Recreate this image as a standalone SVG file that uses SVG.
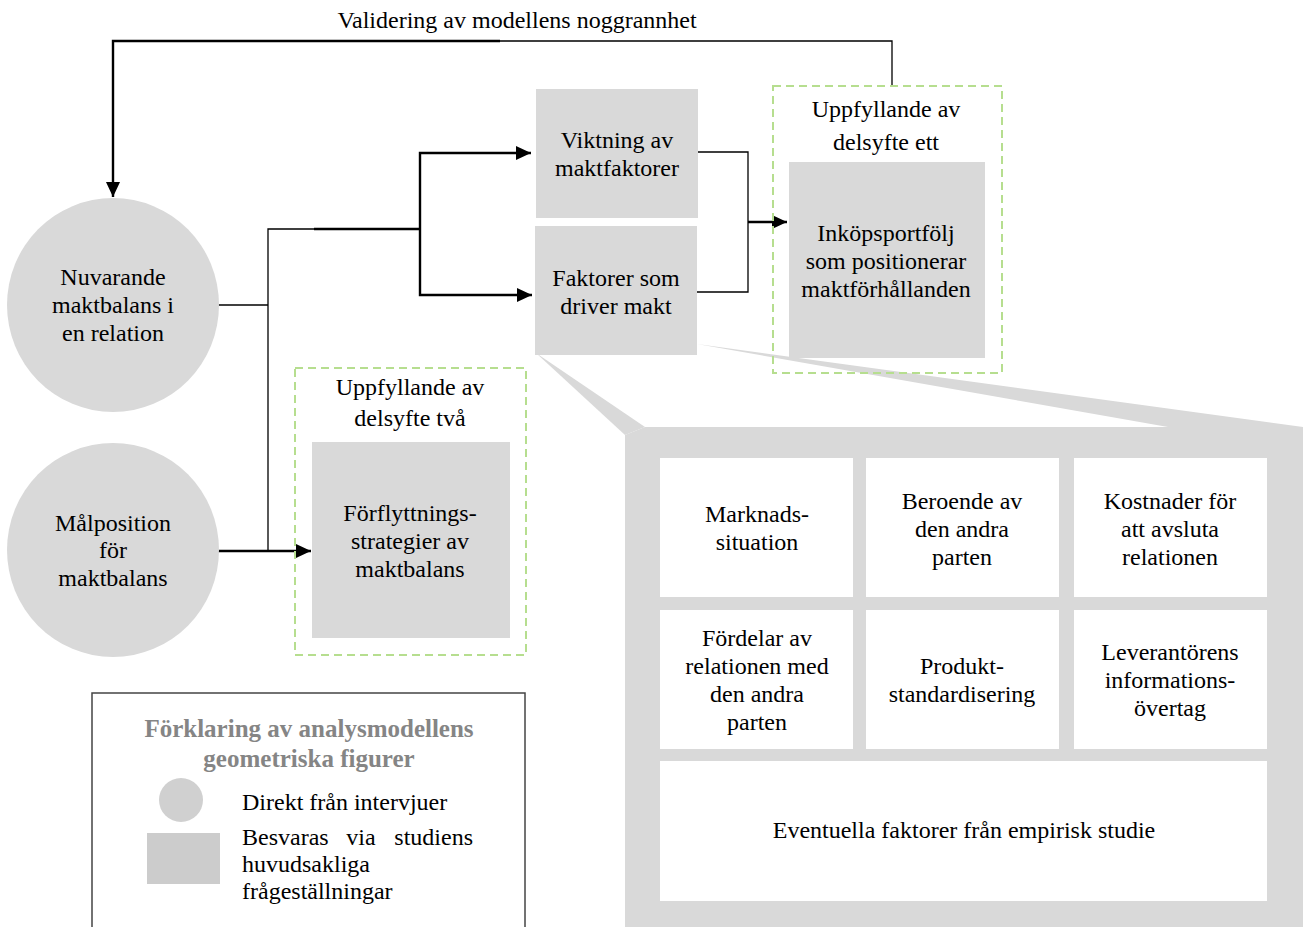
<svg xmlns="http://www.w3.org/2000/svg" width="1303" height="927" viewBox="0 0 1303 927" font-family="'Liberation Serif', 'Times New Roman', serif">
  <defs>
    <marker id="arrow" markerUnits="userSpaceOnUse" markerWidth="16" markerHeight="14" refX="15" refY="7" orient="auto">
      <path d="M0,0 L15,7 L0,14 Z" fill="#000"/>
    </marker>
    <style>
      text { font-family: "Liberation Serif", "Times New Roman", serif; font-size: 24px; fill: #000; text-anchor: middle; }
      .node { fill: #d9d9d9; }
      .cell { fill: #ffffff; }
      .goal { fill: none; stroke: #b6de8f; stroke-width: 2; stroke-dasharray: 8 5; }
      .thin { fill: none; stroke: #000; stroke-width: 1.3; }
      .thick { fill: none; stroke: #000; stroke-width: 2.4; }
      .legend-title { font-weight: bold; fill: #858585; font-size: 25px; }
      .left { text-anchor: start; }
      .end { text-anchor: end; }
    </style>
  </defs>

  <rect width="1303" height="927" fill="#ffffff"/>

  <!-- callout frame for the power factors -->
  <g id="factor-frame">
    <polygon class="node" points="536,353 625,435 645,427"/>
    <polygon class="node" points="697,344 1303,427 1168,427"/>
    <polygon class="node" points="625,435 645,427 1303,427 1303,927 625,927"/>
    <rect class="cell" x="660" y="458" width="193" height="139"/>
    <rect class="cell" x="866" y="458" width="193" height="139"/>
    <rect class="cell" x="1074" y="458" width="193" height="139"/>
    <rect class="cell" x="660" y="610" width="193" height="139"/>
    <rect class="cell" x="866" y="610" width="193" height="139"/>
    <rect class="cell" x="1074" y="610" width="193" height="139"/>
    <rect class="cell" x="660" y="761" width="607" height="140"/>
  </g>
  <g id="factor-market">
    <text x="757" y="522">Marknads-</text>
    <text x="757" y="550">situation</text>
  </g>
  <g id="factor-dependence">
    <text x="962" y="509">Beroende av</text>
    <text x="962" y="537">den andra</text>
    <text x="962" y="565">parten</text>
  </g>
  <g id="factor-exit-cost">
    <text x="1170" y="509">Kostnader för</text>
    <text x="1170" y="537">att avsluta</text>
    <text x="1170" y="565">relationen</text>
  </g>
  <g id="factor-benefits">
    <text x="757" y="646">Fördelar av</text>
    <text x="757" y="674">relationen med</text>
    <text x="757" y="702">den andra</text>
    <text x="757" y="730">parten</text>
  </g>
  <g id="factor-standardisation">
    <text x="962" y="674">Produkt-</text>
    <text x="962" y="702">standardisering</text>
  </g>
  <g id="factor-information">
    <text x="1170" y="660">Leverantörens</text>
    <text x="1170" y="688">informations-</text>
    <text x="1170" y="716">övertag</text>
  </g>
  <g id="factor-empirical">
    <text x="964" y="838">Eventuella faktorer från empirisk studie</text>
  </g>

  <!-- connectors -->
  <g id="connectors">
    <text x="517" y="28">Validering av modellens noggrannhet</text>
    <polyline class="thin" points="892,85 892,41 500,41" stroke="#333"/>
    <polyline class="thick" points="500,41 113,41 113,197" marker-end="url(#arrow)"/>

    <line class="thin" x1="218" y1="305" x2="268" y2="305"/>
    <polyline class="thin" points="268,551 268,229 314,229"/>
    <line class="thick" x1="314" y1="229" x2="420" y2="229"/>
    <polyline class="thick" points="420,229 420,153 531,153" marker-end="url(#arrow)"/>
    <polyline class="thick" points="420,229 420,295 532,295" marker-end="url(#arrow)"/>
    <line class="thick" x1="218" y1="551" x2="311" y2="551" marker-end="url(#arrow)"/>

    <polyline class="thin" points="698,152 748,152 748,292 697,292"/>
    <line class="thick" x1="748" y1="222" x2="787" y2="222" marker-end="url(#arrow)"/>
  </g>

  <g id="current-balance">
    <ellipse class="node" cx="113" cy="305" rx="106" ry="107"/>
    <text x="113" y="285">Nuvarande</text>
    <text x="113" y="313">maktbalans i</text>
    <text x="113" y="341">en relation</text>
  </g>

  <g id="target-position">
    <ellipse class="node" cx="113" cy="550" rx="106" ry="107"/>
    <text x="113" y="531">Målposition</text>
    <text x="113" y="558">för</text>
    <text x="113" y="586">maktbalans</text>
  </g>

  <g id="weighting">
    <rect class="node" x="536" y="89" width="162" height="129"/>
    <text x="617" y="148">Viktning av</text>
    <text x="617" y="176">maktfaktorer</text>
  </g>

  <g id="power-drivers">
    <rect class="node" x="535" y="226" width="162" height="129"/>
    <text x="616" y="286">Faktorer som</text>
    <text x="616" y="314">driver makt</text>
  </g>

  <g id="subgoal-one">
    <rect class="goal" x="773" y="86" width="229" height="287"/>
    <text x="886" y="117">Uppfyllande av</text>
    <text x="886" y="150">delsyfte ett</text>
    <rect class="node" x="789" y="162" width="196" height="196"/>
    <text x="886" y="241">Inköpsportfölj</text>
    <text x="886" y="269">som positionerar</text>
    <text x="886" y="297">maktförhållanden</text>
  </g>

  <g id="subgoal-two">
    <rect class="goal" x="295" y="368" width="231" height="287"/>
    <text x="410" y="395">Uppfyllande av</text>
    <text x="410" y="426">delsyfte två</text>
    <rect class="node" x="312" y="442" width="198" height="196"/>
    <text x="410" y="521">Förflyttnings-</text>
    <text x="410" y="549">strategier av</text>
    <text x="410" y="577">maktbalans</text>
  </g>

  <g id="legend">
    <rect x="92" y="693" width="433" height="250" fill="#ffffff" stroke="#444" stroke-width="1.5"/>
    <text class="legend-title" x="309" y="737">Förklaring av analysmodellens</text>
    <text class="legend-title" x="309" y="767">geometriska figurer</text>
    <circle cx="181" cy="800" r="22" fill="#d0d0d0"/>
    <rect x="147" y="833" width="73" height="51" fill="#cccccc"/>
    <text class="left" x="242" y="810">Direkt från intervjuer</text>
    <!-- justified line: words spread across the column -->
    <text class="left" x="242" y="845">Besvaras</text>
    <text x="361" y="845">via</text>
    <text class="end" x="473" y="845">studiens</text>
    <text class="left" x="242" y="872">huvudsakliga</text>
    <text class="left" x="242" y="899">frågeställningar</text>
  </g>
</svg>
